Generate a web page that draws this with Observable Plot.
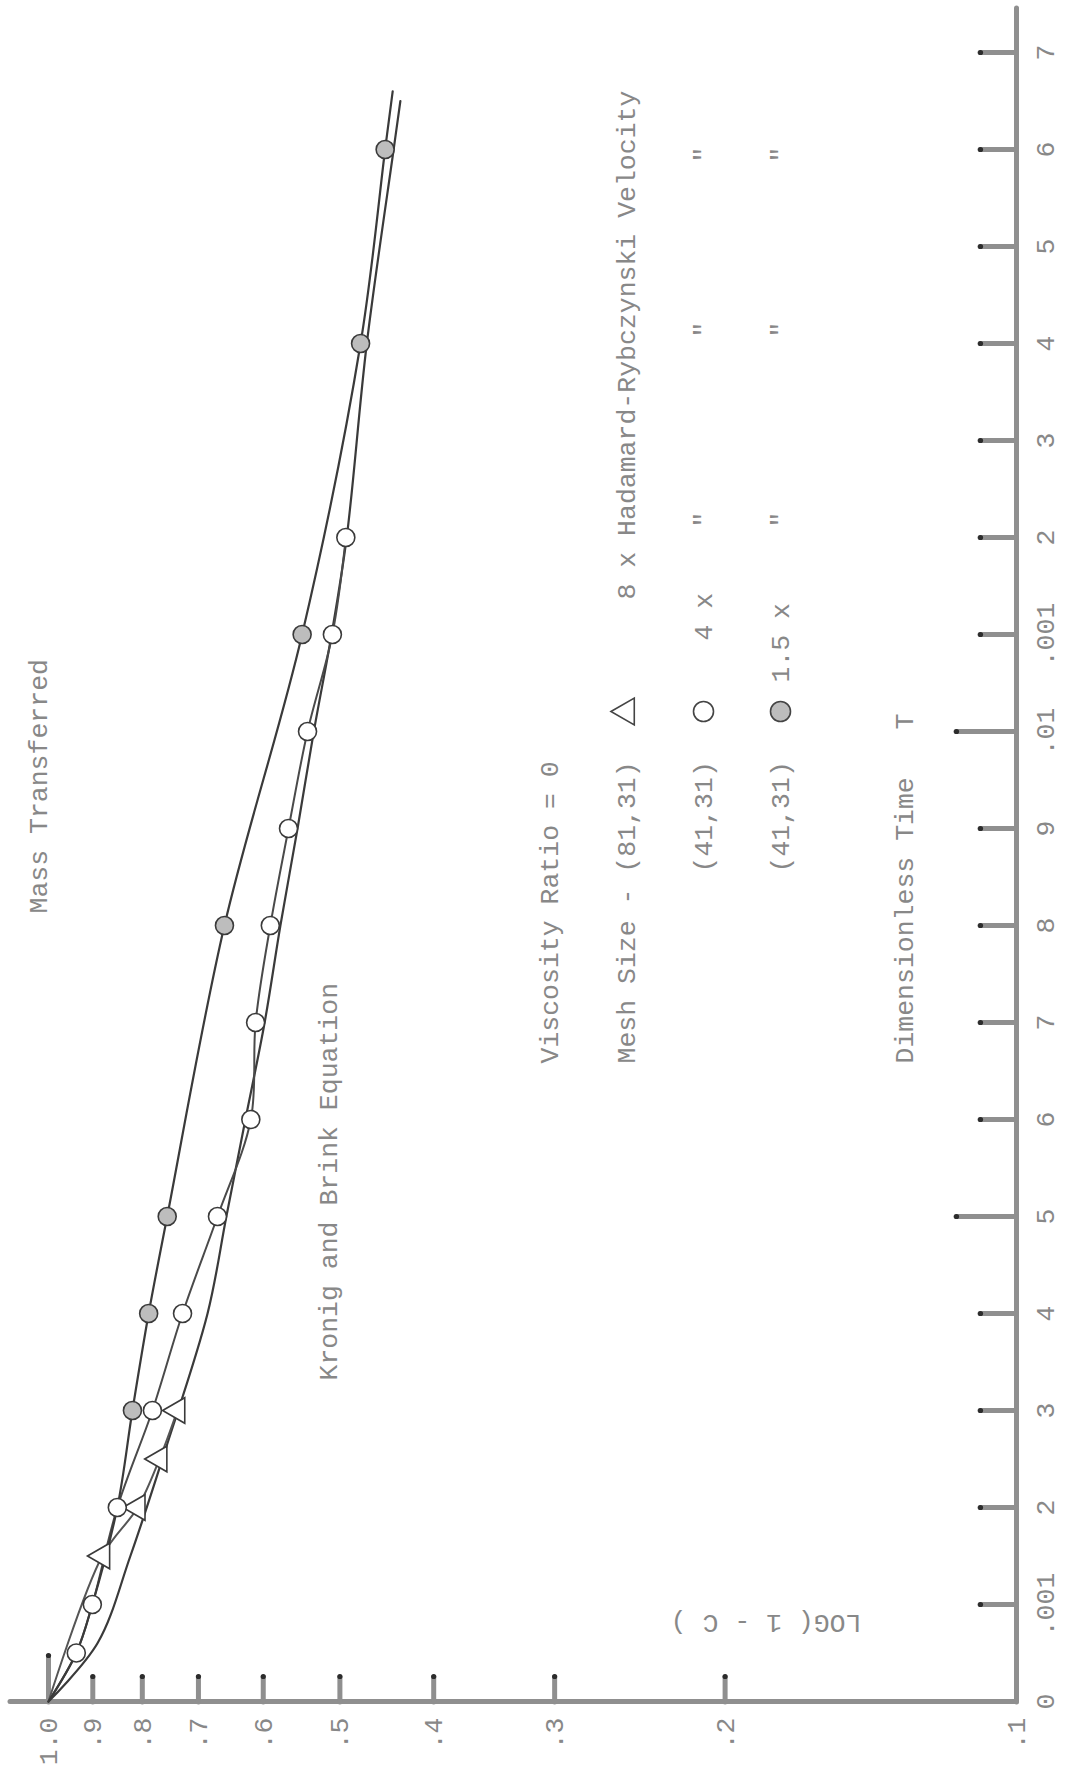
<!DOCTYPE html>
<html><head><meta charset="utf-8">
<script src="https://cdn.jsdelivr.net/npm/d3@7"></script>
<script src="https://cdn.jsdelivr.net/npm/@observablehq/plot@0.6"></script>
<style>
html,body{margin:0;padding:0;background:#fff;}
#wrap{position:relative;width:1072px;height:1773px;overflow:hidden;background:#fff;}
#wrap svg{position:absolute;left:0;top:0;max-width:none !important;width:1773px !important;height:1072px !important;transform-origin:0 0;transform:translate(0px,1773px) rotate(-90deg);}
</style></head><body><div id="wrap"></div>
<script>
// ---- data (Dimensionless time T, and 1 - C on a log scale) ----
const timeTicks  = [0, 0.001, 0.002, 0.003, 0.004, 0.005, 0.006, 0.007, 0.008, 0.009, 0.010, 0.011, 0.012, 0.013, 0.014, 0.015, 0.016, 0.017];
const timeLabels = ["0", ".001", "2", "3", "4", "5", "6", "7", "8", "9", ".01", ".001", "2", "3", "4", "5", "6", "7"];
const longTimeTicks = [0.005, 0.010];
const logTicks  = [1, 0.9, 0.8, 0.7, 0.6, 0.5, 0.4, 0.3, 0.2, 0.1];
const logLabels = ["1.0", ".9", ".8", ".7", ".6", ".5", ".4", ".3", ".2", ".1"];

// Kronig and Brink Equation (smooth curve, no markers)
const kbT = [0, 0.0006, 0.0015, 0.0026, 0.004, 0.005, 0.006, 0.007, 0.008, 0.009, 0.010, 0.011, 0.012, 0.014, 0.016, 0.0165];
const kbV = [1, 0.890, 0.823, 0.757, 0.685, 0.655, 0.626, 0.598, 0.576, 0.553, 0.532, 0.510, 0.492, 0.469, 0.440, 0.433];

// 8 x Hadamard-Rybczynski velocity, mesh (81,31)  - triangles
const triT = [0.0015, 0.002, 0.0025, 0.003];
const triV = [0.880, 0.809, 0.768, 0.736];
const triLineT = [0, 0.0015, 0.002, 0.0025, 0.003];
const triLineV = [1, 0.880, 0.809, 0.768, 0.736];

// 4 x, mesh (41,31) - open circles
const openT = [0.0005, 0.001, 0.002, 0.003, 0.004, 0.005, 0.006, 0.007, 0.008, 0.009, 0.010, 0.011, 0.012];
const openV = [0.936, 0.901, 0.849, 0.781, 0.727, 0.669, 0.618, 0.611, 0.590, 0.565, 0.540, 0.509, 0.493];
const openLineT = [0, 0.0005, 0.001, 0.002, 0.003, 0.004, 0.005, 0.006, 0.007, 0.008, 0.009, 0.010, 0.011, 0.012];
const openLineV = [1, 0.936, 0.901, 0.849, 0.781, 0.727, 0.669, 0.618, 0.611, 0.590, 0.565, 0.540, 0.509, 0.493];

// 1.5 x, mesh (41,31) - shaded circles
const fillT = [0.003, 0.004, 0.005, 0.008, 0.011, 0.014, 0.016];
const fillV = [0.819, 0.788, 0.754, 0.658, 0.547, 0.476, 0.449];
const fillLineT = [0, 0.0005, 0.001, 0.002, 0.003, 0.004, 0.005, 0.008, 0.011, 0.014, 0.016, 0.0166];
const fillLineV = [1, 0.936, 0.901, 0.849, 0.819, 0.788, 0.754, 0.658, 0.547, 0.476, 0.449, 0.441];

// ---- layout ----
const W = 1773, H = 1072;            // chart drawn upright, then turned 90deg on the page
const X_RANGE = [71, 1720], Y_RANGE = [1016, 48];
const xs = d3.scaleLinear([0, 0.017], X_RANGE);
const ys = d3.scaleLog([0.1, 1], Y_RANGE);
const tAt = py => xs.invert(W - py);  // page y -> time
const vAt = px => ys.invert(px);      // page x -> 1-C

const FONT = "'Liberation Mono', 'DejaVu Sans Mono', monospace";
const FS = 26.5;
const INK = "#3a3a3a", AXIS = "#8f8f8f", TXT = "#888888";

const tbl = (T, V) => T.map((t, i) => ({t, v: V[i]}));
const kb = tbl(kbT, kbV), tri = tbl(triT, triV), triL = tbl(triLineT, triLineV);
const open = tbl(openT, openV), openL = tbl(openLineT, openLineV);
const fill = tbl(fillT, fillV), fillL = tbl(fillLineT, fillLineV);

const shortEnd = ys.invert(Y_RANGE[0] - 36), longEnd = ys.invert(Y_RANGE[0] - 60);
const tickEnd = d => longTimeTicks.includes(d) ? longEnd : shortEnd;
const shortX = xs.invert(X_RANGE[0] + 25), longX = xs.invert(X_RANGE[0] + 46);
const logEnd = d => d === 1 ? longX : shortX;

const notes = [
  {text: "Mass Transferred", py: 914, px: 46},
  {text: "Kronig and Brink Equation", py: 1381, px: 336},
  {text: "Viscosity Ratio = 0", py: 1064, px: 557},
  {text: "Mesh Size - (81,31)", py: 1064, px: 634},
  {text: "(41,31)", py: 873, px: 711},
  {text: "(41,31)", py: 873, px: 788},
  {text: "8 x Hadamard-Rybczynski Velocity", py: 600, px: 634},
  {text: "4 x", py: 641, px: 711},
  {text: "1.5 x", py: 683, px: 788},
  {text: "Dimensionless Time\u00A0\u00A0\u00A0T", py: 1064, px: 912}
].map(d => ({...d, t: tAt(d.py), v: vAt(d.px)}));
const dittos = [];
for (const px of [711, 788]) for (const py of [520, 330, 155]) dittos.push({text: "\"", t: tAt(py), v: vAt(px)});
const legendSyms = [
  {symbol: "triangle", fill: "#fff", t: tAt(712), v: vAt(626)},
  {symbol: "circle", fill: "#fff", t: tAt(712), v: vAt(703)},
  {symbol: "circle", fill: "#bdbdbd", t: tAt(712), v: vAt(780)}
];
const yLabel = [{text: "LOG( 1 - C )", t: xs.invert(158), v: vAt(861)}];

const svg = Plot.plot({
  width: W, height: H,
  marginLeft: 71, marginRight: 53, marginTop: 48, marginBottom: 56,
  style: {background: "#fff", overflow: "visible"},
  x: {domain: [0, 0.017], range: X_RANGE, axis: null},
  y: {type: "log", domain: [0.1, 1], range: Y_RANGE, axis: null},
  marks: [
    // axes
    Plot.ruleY([0.1], {x1: 0, x2: tAt(8), stroke: AXIS, strokeWidth: 5, strokeLinecap: "round"}),
    Plot.ruleX([0], {y1: 0.1, y2: vAt(10), stroke: AXIS, strokeWidth: 5, strokeLinecap: "round"}),
    Plot.ruleX(timeTicks.slice(1), {x: d => d, y1: 0.1, y2: tickEnd, stroke: AXIS, strokeWidth: 5, strokeLinecap: "round"}),
    Plot.dot(timeTicks.slice(1), {x: d => d, y: tickEnd, r: 2.6, fill: "#2c2c2c"}),
    Plot.ruleY(logTicks.slice(0, -1), {y: d => d, x1: 0, x2: logEnd, stroke: AXIS, strokeWidth: 5, strokeLinecap: "round"}),
    Plot.dot(logTicks.slice(0, -1), {x: logEnd, y: d => d, r: 2.6, fill: "#2c2c2c"}),
    Plot.text(timeTicks, {x: d => d, y: 0.1, dy: 37, text: (d, i) => timeLabels[i], lineAnchor: "bottom", textAnchor: "middle", fontFamily: FONT, fontSize: FS, fill: TXT}),
    Plot.text(logTicks, {x: 0, y: d => d, dx: -16, text: (d, i) => logLabels[i], textAnchor: "end", lineAnchor: "middle", fontFamily: FONT, fontSize: FS, fill: TXT}),
    // curves
    Plot.line(kb, {x: "t", y: "v", curve: "catmull-rom", stroke: INK, strokeWidth: 2.2}),
    Plot.line(triL, {x: "t", y: "v", curve: "catmull-rom", stroke: "#555", strokeWidth: 2}),
    Plot.line(openL, {x: "t", y: "v", curve: "catmull-rom", stroke: "#4a4a4a", strokeWidth: 2}),
    Plot.line(fillL, {x: "t", y: "v", curve: "catmull-rom", stroke: INK, strokeWidth: 2.2}),
    // markers
    Plot.dot(tri, {x: "t", y: "v", symbol: "triangle", r: 9.5, fill: "#fff", stroke: INK, strokeWidth: 1.6}),
    Plot.dot(open, {x: "t", y: "v", symbol: "circle", r: 9, fill: "#fff", stroke: INK, strokeWidth: 1.6}),
    Plot.dot(fill, {x: "t", y: "v", symbol: "circle", r: 9, fill: "#bdbdbd", stroke: INK, strokeWidth: 1.6}),
    // annotations
    Plot.text(notes, {x: "t", y: "v", text: "text", textAnchor: "start", lineAnchor: "bottom", fontFamily: FONT, fontSize: FS, fill: TXT}),
    Plot.text(dittos, {x: "t", y: "v", text: "text", textAnchor: "middle", lineAnchor: "bottom", fontFamily: FONT, fontSize: FS, fill: TXT}),
    Plot.dot(legendSyms, {x: "t", y: "v", symbol: "symbol", fill: "fill", r: 10, stroke: "#444", strokeWidth: 1.6}),
    Plot.text(yLabel, {x: "t", y: "v", text: "text", rotate: -90, textAnchor: "start", lineAnchor: "bottom", fontFamily: FONT, fontSize: FS, fill: TXT})
  ]
});
document.getElementById("wrap").appendChild(svg);
</script></body></html>
